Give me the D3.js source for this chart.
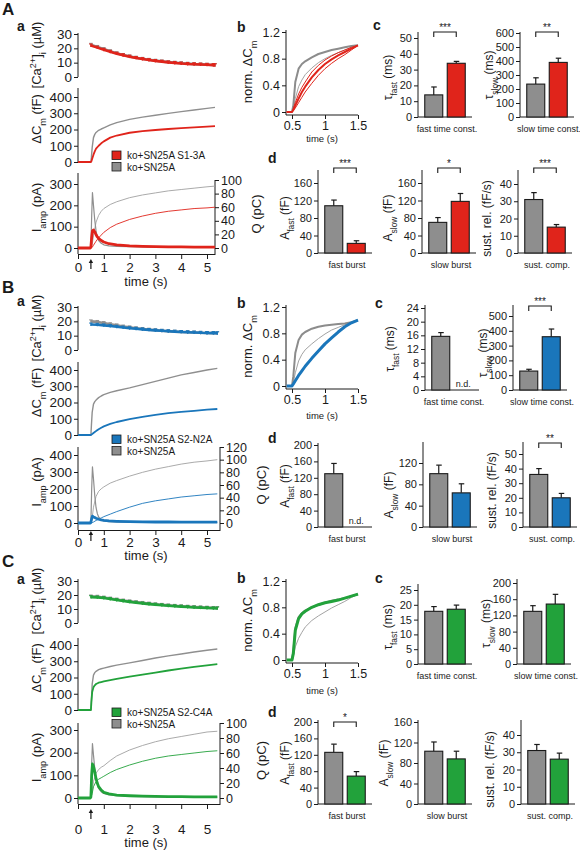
<!DOCTYPE html>
<html><head><meta charset="utf-8">
<script src="https://cdn.jsdelivr.net/npm/d3@7"></script>
<style>
body{margin:0;background:#fff}
svg{display:block}
text{font-family:"Liberation Sans",Arial,sans-serif;fill:#1a1a1a}
</style>
</head><body>
<svg id="c" width="580" height="852"></svg>
<script>
// ---------------- DATA ----------------
const groups = ["ko+SN25A", "mutant"];
const legendNames = {A: "ko+SN25A S1-3A", B: "ko+SN25A S2-N2A", C: "ko+SN25A S2-C4A"};

// [Ca2+]i (µM)
const timeCa = [0.5,0.75,1,1.25,1.5,1.75,2,2.25,2.5,2.75,3,3.25,3.5,3.75,4,4.25,4.5,4.75,5,5.25,5.4];
const caCtrlA = [22.5,21,19.5,18,16.6,15.4,14.4,13.5,12.7,12,11.4,10.9,10.4,10,9.6,9.3,9,8.8,8.6,8.4,8.3];
const caMutA  = [22,20.5,19,17.6,16.3,15.2,14.2,13.3,12.5,11.8,11.2,10.7,10.2,9.8,9.4,9.1,8.9,8.7,8.5,8.3,8.2];
const caCtrlB = [20,19.6,18.8,18,17.2,16.4,15.8,15.2,14.7,14.2,13.8,13.4,13.1,12.8,12.6,12.4,12.2,12,11.9,11.8,11.7];
const caMutB  = [17.8,17.6,17.2,16.7,16.2,15.7,15.2,14.8,14.4,14,13.7,13.4,13.1,12.8,12.6,12.4,12.2,12,11.9,11.8,11.7];
const caCtrlC = [19,18.8,18.2,17.5,16.8,16.1,15.5,14.9,14.4,13.9,13.4,13,12.6,12.3,12,11.7,11.4,11.2,11,10.8,10.7];
const caMutC  = [18.5,18.3,17.8,17.1,16.4,15.7,15.1,14.5,14,13.5,13.1,12.7,12.3,12,11.7,11.4,11.1,10.9,10.7,10.5,10.4];

// ΔCm (fF)
const timeCm = [0,0.5,0.52,0.55,0.6,0.65,0.7,0.8,0.9,1,1.25,1.5,2,2.5,3,3.5,4,4.5,5,5.4];
const cmCtrlA = [0,0,30,90,150,170,182,195,203,210,228,242,262,276,288,299,310,320,330,336];
const cmMutA  = [0,0,5,20,45,65,82,100,115,127,150,163,180,190,197,203,208,213,218,221];
const cmCtrlB = [0,0,60,140,190,205,215,230,240,248,262,272,290,310,330,350,370,385,400,410];
const cmMutB  = [0,0,2,6,12,18,24,35,45,53,68,80,98,112,124,134,142,149,156,160];
const cmCtrlC = [0,0,60,160,215,230,238,248,254,258,268,276,290,305,320,333,345,357,368,375];
const cmMutC  = [0,0,50,110,140,152,160,168,172,176,184,192,205,218,230,243,254,265,275,282];

// Iamp (pA)
const timeI = [0,0.48,0.5,0.53,0.56,0.6,0.65,0.7,0.75,0.8,0.9,1,1.2,1.5,2,2.5,3,3.5,4,4.5,5,5.4];
const iCtrlA = [0,0,2,150,260,200,130,80,50,35,22,15,10,8,6,5,4,4,3,3,3,3];
const iMutA  = [0,0,5,50,80,85,75,62,52,45,35,28,20,15,10,8,6,5,5,4,4,4];
const iCtrlB = [0,0,5,200,330,260,160,90,55,35,20,12,8,6,5,4,4,3,3,3,3,3];
const iMutB  = [0,0,5,25,40,35,32,28,25,22,18,15,12,10,8,7,6,6,5,5,5,5];
const iCtrlC = [0,0,5,150,240,190,130,85,60,42,28,20,14,10,7,6,5,5,4,4,4,4];
const iMutC  = [0,0,5,100,150,140,115,85,65,50,35,25,18,13,10,8,7,6,6,5,5,5];

// Q (pC)
const timeQ = [0,0.5,0.55,0.6,0.7,0.8,0.9,1,1.25,1.5,2,2.5,3,3.5,4,4.5,5,5.4];
const qCtrlA = [0,0,5,18,38,48,54,58,64,68,74,78,81,84,86,88,90,91];
const qMutA  = [0,0,1,4,10,15,19,23,30,35,42,47,51,54,56,58,59,60];
const qCtrlB = [0,0,8,25,42,50,54,57,63,67,74,80,85,89,93,96,98,100];
const qMutB  = [0,0,0.5,1.5,4,6,8,10,14,18,25,31,35,38,41,43,45,46];
const qCtrlC = [0,0,8,22,33,38,41,43,50,56,64,70,75,79,82,85,88,89];
const qMutC  = [0,0,6,15,22,25,27,29,34,38,44,49,53,56,58,60,62,63];

// normalized ΔCm
const timeNorm = [0.42,0.5,0.52,0.55,0.6,0.65,0.7,0.8,0.9,1,1.1,1.2,1.3,1.4,1.5];
const normCtrlA   = [0,0,0.1,0.45,0.65,0.72,0.76,0.82,0.87,0.9,0.93,0.95,0.97,0.99,1.0];
const normCtrlLoA = [0,0,0.05,0.2,0.38,0.48,0.56,0.66,0.74,0.8,0.85,0.89,0.93,0.97,1.0];
const normMutA    = [0,0,0.03,0.1,0.2,0.3,0.38,0.52,0.63,0.72,0.79,0.85,0.9,0.95,1.0];
const normMutHiA  = [0,0,0.05,0.14,0.27,0.37,0.45,0.6,0.7,0.78,0.84,0.89,0.93,0.97,1.0];
const normMutLoA  = [0,0,0.02,0.06,0.14,0.22,0.3,0.43,0.55,0.65,0.73,0.8,0.86,0.93,1.0];
const normCtrlB   = [0,0,0.15,0.5,0.7,0.78,0.82,0.87,0.9,0.92,0.93,0.94,0.95,0.97,1.0];
const normCtrlLoB = [0,0,0.05,0.2,0.38,0.48,0.55,0.64,0.72,0.79,0.85,0.89,0.93,0.97,1.0];
const normMutB    = [0,0,0.03,0.08,0.16,0.23,0.3,0.42,0.53,0.64,0.73,0.82,0.9,0.96,1.0];
const normCtrlC   = [0,0,0.12,0.48,0.65,0.71,0.75,0.8,0.84,0.87,0.9,0.92,0.94,0.97,1.0];
const normCtrlLoC = [0,0,0.05,0.2,0.33,0.42,0.5,0.6,0.67,0.73,0.79,0.84,0.89,0.95,1.0];
const normMutC    = [0,0,0.1,0.45,0.63,0.7,0.74,0.8,0.84,0.87,0.89,0.91,0.94,0.97,1.0];

// bar values [ko+SN25A, mutant] and SEM
const tauFastA = [14, 34],   tauFastErrA = [5, 1.2];
const tauSlowA = [235, 390], tauSlowErrA = [45, 30];
const aFastA   = [108, 22],  aFastErrA   = [13, 6];
const aSlowA   = [70, 118],  aSlowErrA   = [11, 18];
const sustA    = [31, 15],   sustErrA    = [4, 1.5];
const tauFastB = [15.7, null], tauFastErrB = [1.1, 0];
const tauSlowB = [128, 360], tauSlowErrB = [12, 52];
const aFastB   = [130, null], aFastErrB  = [25, 0];
const aSlowB   = [100, 64],  aSlowErrB   = [16, 17];
const sustB    = [36, 20],   sustErrB    = [4, 3];
const tauFastC = [17.8, 18.5], tauFastErrC = [1.6, 1.4];
const tauSlowC = [130, 148], tauSlowErrC = [14, 24];
const aFastC   = [126, 68],  aFastErrC   = [20, 11];
const aSlowC   = [103, 88],  aSlowErrC   = [18, 15];
const sustC    = [31, 26],   sustErrC    = [3.5, 3.5];

// tick labels
const caTicks = [0,10,20,30];
const cmTicks = [0,100,200,300,400];
const timeTicks = [0,1,2,3,4,5];
const normTicks = [0,0.4,0.8,1.2];
const normTimeTicks = [0.5,1,1.5];

// ---------------- DRAW ----------------
const svg = d3.select('#c');
const INK = '#1a1a1a';
const GREY_BAR = '#8e8e8e';
const GREY_LINE = '#8f8f8f';
const COL = {A:'#e0241b', B:'#1a76bb', C:'#22a23b'};
const fmt = d => String(d);

function rich(t, parts, size) {
  parts.forEach(([s, k]) => {
    const sp = t.append('tspan').text(s);
    if (k === 'sub') sp.attr('font-size', size*0.7).attr('baseline-shift','sub');
    if (k === 'sup') sp.attr('font-size', size*0.7).attr('baseline-shift','super');
  });
}
function vTitle(x, y, parts, size) {
  const t = svg.append('text').attr('transform',`translate(${x},${y}) rotate(-90)`)
    .attr('text-anchor','middle').attr('font-size', size);
  rich(t, parts, size);
}
function label(x, y, s, size, bold, anchor) {
  svg.append('text').attr('x',x).attr('y',y).attr('font-size',size)
    .attr('font-weight', bold ? 'bold' : 'normal').attr('text-anchor', anchor || 'start').text(s);
}
function yAxis(scale, ticks, x, top, bottom, side, fs) {
  const ax = (side === 'right' ? d3.axisRight(scale) : d3.axisLeft(scale))
    .tickValues(ticks).tickSize(4).tickSizeOuter(0).tickPadding(2).tickFormat(fmt);
  const g = svg.append('g').attr('transform',`translate(${x},0)`).call(ax);
  g.select('.domain').remove();
  g.selectAll('.tick line').attr('stroke', INK);
  g.selectAll('text').attr('font-size', fs).attr('fill', INK);
  g.append('line').attr('x1',0).attr('x2',0).attr('y1',top).attr('y2',bottom).attr('stroke',INK);
  return g;
}
function path(data, xs, ys, color, w) {
  svg.append('path').datum(data).attr('fill','none').attr('stroke',color)
    .attr('stroke-width',w).attr('stroke-linejoin','round')
    .attr('d', d3.line().x(d => xs(d[0])).y(d => ys(d[1])));
}

function tracePanel(key, L, D) {
  const col = COL[key];
  label(L.lx, L.ly, key, 17, true);
  label(17, L.sy, 'a', 14, true);
  const tEnd = (L.xEnd - 78) / 25.8;
  const x = d3.scaleLinear().domain([0, tEnd]).range([78, L.xEnd]).clamp(true);
  // Ca
  const yCa = d3.scaleLinear().domain([0,30]).range([L.ca[0], L.ca[1]]);
  yAxis(yCa, caTicks, 78, L.ca[2], L.ca[0], 'left', 13.5);
  [[D.caCtrl, GREY_LINE], [D.caMut, col]].forEach(([vals, c]) => {
    const pts = d3.zip(timeCa, vals);
    path(pts, x, yCa, c, 2.6);
    pts.forEach(p => {
      svg.append('line').attr('x1',x(p[0])).attr('x2',x(p[0]))
        .attr('y1',yCa(p[1]-1)).attr('y2',yCa(p[1]+1)).attr('stroke',c).attr('stroke-width',1.3);
      svg.append('line').attr('x1',x(p[0])-1.8).attr('x2',x(p[0])+1.8)
        .attr('y1',yCa(p[1]+1)).attr('y2',yCa(p[1]+1)).attr('stroke',c).attr('stroke-width',1);
    });
  });
  vTitle(41, (L.ca[0]+L.ca[2])/2, [['[Ca'],['2+','sup'],[']'],['i','sub'],[' (µM)']], 13);
  // Cm
  const yCm = d3.scaleLinear().domain([0,400]).range([L.cm[0], L.cm[1]]);
  yAxis(yCm, cmTicks, 78, L.cm[2], L.cm[0], 'left', 13.5);
  path(d3.zip(timeCm, D.cmCtrl), x, yCm, GREY_LINE, 1.4);
  path(d3.zip(timeCm, D.cmMut), x, yCm, col, 1.8);
  vTitle(41, (L.cm[0]+L.cm[2])/2 - 6, [['ΔC'],['m','sub'],[' (fF)']], 13);
  // legend
  [[col, legendNames[key]], [GREY_BAR, 'ko+SN25A']].forEach((d, i) => {
    svg.append('rect').attr('x',112).attr('y',L.legY + i*11.5).attr('width',9).attr('height',8.5)
      .attr('fill',d[0]).attr('stroke',INK).attr('stroke-width',0.8);
    label(127, L.legY + i*11.5 + 8, d[1], 10, false);
  });
  // Iamp + Q
  const yI = d3.scaleLinear().domain([0, L.iaMax]).range([L.ia[0], L.ia[1]]);
  yAxis(yI, L.iaTicks, 78, L.ia[2], L.axisY, 'left', 13.5);
  const yQ = d3.scaleLinear().domain([0, L.qMax]).range([L.ia[0], L.qTop]);
  yAxis(yQ, L.qTicks, L.xEnd, L.qTop, L.axisY, 'right', 12.5);
  path(d3.zip(timeQ, D.qCtrl), x, yQ, '#a0a0a0', 0.9);
  path(d3.zip(timeQ, D.qMut), x, yQ, col, 0.9);
  path(d3.zip(timeI, D.iCtrl), x, yI, GREY_LINE, 1.2);
  path(d3.zip(timeI, D.iMut), x, yI, col, 2.8);
  const xa = svg.append('g').attr('transform',`translate(0,${L.axisY})`)
    .call(d3.axisBottom(x).tickValues(timeTicks).tickSize(5).tickSizeOuter(0).tickPadding(L.tickPad).tickFormat(fmt));
  xa.select('.domain').attr('stroke',INK);
  xa.selectAll('.tick line').attr('stroke',INK);
  xa.selectAll('text').attr('font-size',13.5).attr('fill',INK);
  vTitle(41, (L.ia[0]+L.ia[2])/2 - 3, [['I'],['amp','sub'],[' (pA)']], 13);
  vTitle(L.xEnd + 46, (L.ia[0]+L.qTop)/2, [['Q (pC)']], 13);
  // stimulus arrow
  const ax0 = x(0.5);
  svg.append('line').attr('x1',ax0).attr('x2',ax0).attr('y1',L.arrow[1]).attr('y2',L.arrow[0]+2)
    .attr('stroke',INK).attr('stroke-width',1.2);
  svg.append('path').attr('d',`M${ax0-2.2},${L.arrow[0]+3}L${ax0},${L.arrow[0]-1}L${ax0+2.2},${L.arrow[0]+3}Z`).attr('fill',INK);
  label(146, L.timeY, 'time (s)', 13, false, 'middle');
}

function normPanel(key, L, D) {
  const col = COL[key];
  label(237, L.by, 'b', 14, true);
  const x = d3.scaleLinear().domain([0.5,1.5]).range([292, 358]);
  const y = d3.scaleLinear().domain([0,1.2]).range([L.y0, L.y1]);
  yAxis(y, normTicks, 286, L.top, L.y0 + 3, 'left', 12.5);
  const xa = svg.append('g').attr('transform',`translate(0,${L.y0+3})`)
    .call(d3.axisBottom(x).tickValues(normTimeTicks).tickSize(4).tickSizeOuter(0).tickPadding(2).tickFormat(fmt));
  xa.select('.domain').remove();
  xa.append('line').attr('x1',286).attr('x2',358).attr('stroke',INK);
  xa.selectAll('.tick line').attr('stroke',INK);
  xa.selectAll('text').attr('font-size',12.5).attr('fill',INK);
  path(d3.zip(timeNorm, D.ctrlLo), x, y, '#a3a3a3', 1);
  path(d3.zip(timeNorm, D.ctrl), x, y, '#8c8c8c', 2);
  if (D.mutHi) path(d3.zip(timeNorm, D.mutHi), x, y, col, 1);
  if (D.mutLo) path(d3.zip(timeNorm, D.mutLo), x, y, col, 1);
  path(d3.zip(timeNorm, D.mut), x, y, col, D.mutHi ? 2 : 3);
  vTitle(252, (L.y0+L.y1)/2, [['norm. ΔC'],['m','sub']], 13);
  label(322, L.timeY, 'time (s)', 9.5, false, 'middle');
}

function barChart(key, c) {
  const col = COL[key];
  const y = d3.scaleLinear().domain([0, c.max]).range([c.y0, c.yMax]);
  const xb = d3.scaleBand().domain(groups).range([c.x, c.x + 54]).paddingInner(0.2).paddingOuter(0.3);
  yAxis(y, c.ticks, c.x, c.top, c.y0, 'left', 11);
  svg.append('line').attr('x1',c.x).attr('x2',c.x+54).attr('y1',c.y0).attr('y2',c.y0).attr('stroke',INK);
  c.vals.forEach((v, i) => {
    const bx = xb(groups[i]), bw = xb.bandwidth(), cx = bx + bw/2;
    if (v == null) { label(cx, c.y0 - 3, 'n.d.', 9, false, 'middle'); return; }
    const top = y(v + c.errs[i]);
    svg.append('line').attr('x1',cx).attr('x2',cx).attr('y1',y(v)).attr('y2',top).attr('stroke',INK).attr('stroke-width',1.2);
    svg.append('line').attr('x1',cx-2.5).attr('x2',cx+3).attr('y1',top).attr('y2',top).attr('stroke',INK).attr('stroke-width',1.2);
    svg.append('rect').attr('x',bx).attr('y',y(v)).attr('width',bw).attr('height',c.y0 - y(v))
      .attr('fill', i ? col : GREY_BAR).attr('stroke',INK).attr('stroke-width',1.1);
  });
  label(c.x + 29, c.y0 + 15, c.cat, 9, false, 'middle');
  vTitle(c.x - (c.tdx || 27), (c.y0 + c.yMax)/2, c.title, 12);
  if (c.sig) {
    const x1 = xb(groups[0]) + xb.bandwidth()/2, x2 = xb(groups[1]) + xb.bandwidth()/2;
    svg.append('path').attr('d',`M${x1},${c.sigY+5}V${c.sigY}H${x2}V${c.sigY+5}`)
      .attr('fill','none').attr('stroke',INK).attr('stroke-width',1.1);
    label((x1+x2)/2, c.sigY - 1, c.sig, 10, false, 'middle');
  }
}

const T_FAST = [['τ'],['fast','sub'],[' (ms)']];
const T_SLOW = [['τ'],['slow','sub'],[' (ms)']];
const A_FAST = [['A'],['fast','sub'],[' (fF)']];
const A_SLOW = [['A'],['slow','sub'],[' (fF)']];
const SUST = [['sust. rel. (fF/s)']];

// ---- Panel A ----
tracePanel('A', {lx:2, ly:15, sy:31, xEnd:215, ca:[77,34,33], cm:[162,97,88], ia:[248,184,173], iaMax:300,
  iaTicks:[0,100,200,300], axisY:254, qTop:180, qMax:100, qTicks:[0,20,40,60,80,100], tickPad:3,
  arrow:[260,269], timeY:286, legY:151},
  {caCtrl:caCtrlA, caMut:caMutA, cmCtrl:cmCtrlA, cmMut:cmMutA, iCtrl:iCtrlA, iMut:iMutA, qCtrl:qCtrlA, qMut:qMutA});
normPanel('A', {by:32, y0:112, y1:32, top:30, timeY:142},
  {ctrl:normCtrlA, ctrlLo:normCtrlLoA, mut:normMutA, mutHi:normMutHiA, mutLo:normMutLoA});
label(373, 30, 'c', 14, true);
label(268, 163, 'd', 14, true);
barChart('A', {x:418, y0:117, yMax:38, top:32, max:50, ticks:[0,10,20,30,40,50], vals:tauFastA, errs:tauFastErrA, cat:'fast time const.', title:T_FAST, sig:'***', sigY:32, tdx:26});
barChart('A', {x:520, y0:117, yMax:33, top:32, max:600, ticks:[0,100,200,300,400,500,600], vals:tauSlowA, errs:tauSlowErrA, cat:'slow time const.', title:T_SLOW, sig:'**', sigY:32, tdx:27});
barChart('A', {x:318, y0:253, yMax:183, top:170, max:160, ticks:[0,40,80,120,160], vals:aFastA, errs:aFastErrA, cat:'fast burst', title:A_FAST, sig:'***', sigY:168, tdx:29});
barChart('A', {x:422, y0:253, yMax:183, top:170, max:160, ticks:[0,40,80,120,160], vals:aSlowA, errs:aSlowErrA, cat:'slow burst', title:A_SLOW, sig:'*', sigY:168, tdx:30});
barChart('A', {x:518, y0:253, yMax:184, top:170, max:40, ticks:[0,10,20,30,40], vals:sustA, errs:sustErrA, cat:'sust. comp.', title:SUST, sig:'***', sigY:168, tdx:27});

// ---- Panel B ----
tracePanel('B', {lx:2, ly:293, sy:306, xEnd:220, ca:[350,307,306], cm:[435,370,362], ia:[523,455,447], iaMax:400,
  iaTicks:[0,100,200,300,400], axisY:530, qTop:447, qMax:120, qTicks:[0,20,40,60,80,100,120], tickPad:2,
  arrow:[532,541], timeY:560, legY:435},
  {caCtrl:caCtrlB, caMut:caMutB, cmCtrl:cmCtrlB, cmMut:cmMutB, iCtrl:iCtrlB, iMut:iMutB, qCtrl:qCtrlB, qMut:qMutB});
normPanel('B', {by:308, y0:386, y1:307, top:305, timeY:419},
  {ctrl:normCtrlB, ctrlLo:normCtrlLoB, mut:normMutB});
label(375, 308, 'c', 14, true);
label(268, 443, 'd', 14, true);
barChart('B', {x:425, y0:390, yMax:308, top:305, max:24, ticks:[0,4,8,12,16,20,24], vals:tauFastB, errs:tauFastErrB, cat:'fast time const.', title:T_FAST, tdx:31});
barChart('B', {x:513, y0:390, yMax:316, top:305, max:500, ticks:[0,100,200,300,400,500], vals:tauSlowB, errs:tauSlowErrB, cat:'slow time const.', title:T_SLOW, sig:'***', sigY:306, tdx:26});
barChart('B', {x:318, y0:527, yMax:445, top:443, max:200, ticks:[0,40,80,120,160,200], vals:aFastB, errs:aFastErrB, cat:'fast burst', title:A_FAST, tdx:29});
barChart('B', {x:423, y0:527, yMax:463, top:442, max:120, ticks:[0,40,80,120], vals:aSlowB, errs:aSlowErrB, cat:'slow burst', title:A_SLOW, tdx:30});
barChart('B', {x:523, y0:527, yMax:454, top:442, max:50, ticks:[0,10,20,30,40,50], vals:sustB, errs:sustErrB, cat:'sust. comp.', title:SUST, sig:'**', sigY:443, tdx:27});

// ---- Panel C ----
tracePanel('C', {lx:2, ly:567, sy:584, xEnd:220, ca:[623,581,579], cm:[710,645,638], ia:[798,730,723], iaMax:300,
  iaTicks:[0,100,200,300], axisY:804, qTop:723, qMax:100, qTicks:[0,20,40,60,80,100], tickPad:15,
  arrow:[810,819], timeY:847, legY:708},
  {caCtrl:caCtrlC, caMut:caMutC, cmCtrl:cmCtrlC, cmMut:cmMutC, iCtrl:iCtrlC, iMut:iMutC, qCtrl:qCtrlC, qMut:qMutC});
normPanel('C', {by:583, y0:660, y1:581, top:579, timeY:694},
  {ctrl:normCtrlC, ctrlLo:normCtrlLoC, mut:normMutC});
label(375, 583, 'c', 14, true);
label(268, 717, 'd', 14, true);
barChart('C', {x:418, y0:664, yMax:590, top:584, max:25, ticks:[0,5,10,15,20,25], vals:tauFastC, errs:tauFastErrC, cat:'fast time const.', title:T_FAST, tdx:26});
barChart('C', {x:517, y0:664, yMax:583, top:579, max:200, ticks:[0,40,80,120,160,200], vals:tauSlowC, errs:tauSlowErrC, cat:'slow time const.', title:T_SLOW, tdx:27});
barChart('C', {x:318, y0:804, yMax:722, top:720, max:200, ticks:[0,40,80,120,160,200], vals:aFastC, errs:aFastErrC, cat:'fast burst', title:A_FAST, sig:'*', sigY:722, tdx:29});
barChart('C', {x:418, y0:804, yMax:722, top:720, max:160, ticks:[0,40,80,120,160], vals:aSlowC, errs:aSlowErrC, cat:'slow burst', title:A_SLOW, tdx:30});
barChart('C', {x:521, y0:804, yMax:735, top:720, max:40, ticks:[0,10,20,30,40], vals:sustC, errs:sustErrC, cat:'sust. comp.', title:SUST, tdx:27});
</script>
</body></html>
